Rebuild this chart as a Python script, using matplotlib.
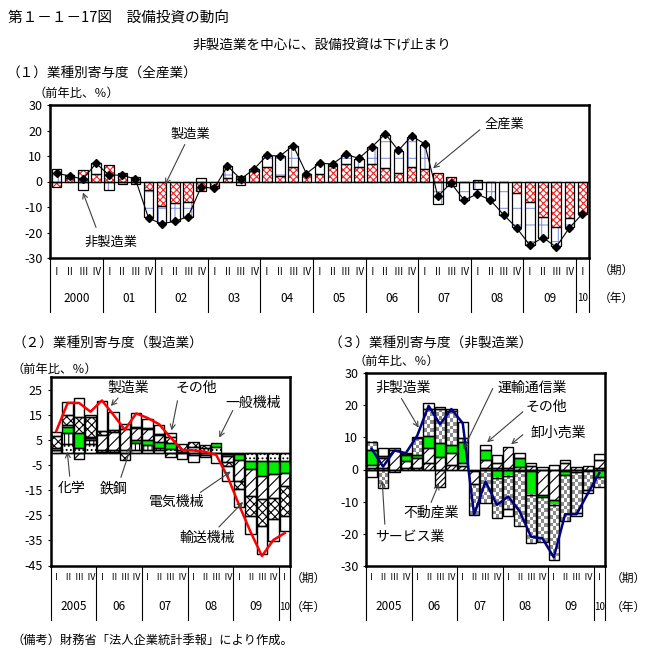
import numpy as np
import matplotlib
matplotlib.use('Agg')
import matplotlib.pyplot as plt
from matplotlib.colors import ListedColormap
from matplotlib.patches import FancyArrowPatch

plt.rcParams['font.family'] = ['Noto Sans CJK JP', 'DejaVu Sans']
plt.rcParams['axes.unicode_minus'] = False
plt.rcParams['hatch.linewidth'] = 0.8

W, H = 659, 657

# ---- data -------------------------------------------------------------
romans = ['Ⅰ', 'Ⅱ', 'Ⅲ', 'Ⅳ']

# (1) 全産業 2000Q1-2010Q1
years1 = ['2000', '01', '02', '03', '04', '05', '06', '07', '08', '09', '10']
mfg1 = [-2.0, 1.2, 4.4, 3.1, 6.5, 3.3, -1.0, -3.4, -9.7, -8.6, -8.2, -3.6, -1.7, 1.5, 2.0, 4.3,
        5.8, 2.2, 5.6, 2.8, 2.8, 6.2, 6.7, 5.8, 6.7, 5.2, 3.2, 5.7, 4.8, 3.5, 1.8, -0.3,
        0.5, -0.3, -0.3, -4.7, -8.2, -14.0, -17.7, -14.3, -12.3]
nonmfg1 = [5.0, 1.3, -3.4, 4.0, -3.4, -0.8, 1.8, -10.6, -6.6, -6.8, -5.6, 1.5, -1.0, 4.6, -1.5, 0.6,
           4.2, 7.8, 8.3, 0.3, 4.1, 0.7, 3.6, 3.1, 6.9, 13.2, 8.7, 11.8, 9.7, -8.8, -1.9, -6.9,
           -3.0, -6.9, -12.7, -13.2, -16.6, -8.0, -7.4, -3.6, -0.3]
total1 = [3.2, 2.2, 0.9, 7.1, 2.5, 2.5, 0.9, -14.4, -16.6, -15.6, -13.8, -2.1, -2.7, 6.1, 0.9, 4.8,
          10.2, 10.0, 14.1, 3.1, 7.1, 6.9, 10.6, 9.1, 13.6, 18.7, 12.2, 17.8, 14.8, -5.8, -0.6, -7.3,
          -4.9, -7.3, -13.0, -18.2, -25.0, -22.0, -25.7, -18.2, -12.7]

# (2) 製造業 2005Q1-2010Q1
years2 = ['2005', '06', '07', '08', '09', '10']
chem = [1.0, 3.5, 2.0, 3.5, 0.5, 0.5, 1.0, 1.3, 1.3, 1.0, 1.5, 0.5, 2.5, 2.0, 2.3, -0.5,
        -0.5, -3.3, -3.3, -3.3, -3.3]
steel = [0.3, 4.5, 0.0, 1.5, 0.5, 0.5, 0.0, 2.7, 1.7, 1.0, 0.0, 0.0, 0.0, 0.0, 0.0, 0.0,
         0.0, 0.0, 0.0, 0.0, 0.0]
genmach = [0.0, 2.5, 6.0, 1.0, 0.0, 0.0, 0.0, 1.3, 2.3, 2.5, 2.3, 0.0, 0.0, 0.0, 1.6, -0.7,
           -2.3, -3.3, -6.0, -5.3, -4.7]
elecmach = [0.5, 0.5, -2.5, 0.5, 6.0, 7.5, 8.7, 4.7, 4.4, 2.5, -1.7, 0.5, -1.0, -1.0, 0.0, -2.5,
            -8.3, -10.7, -9.3, -9.3, -5.3]
transmach = [5.0, 4.0, 6.5, 8.0, 1.6, 0.7, -2.8, 0.5, 0.3, 0.5, 2.7, 2.5, 2.0, 1.0, 0.0, -1.5,
             -3.5, -8.0, -10.7, -8.7, -12.0]
other2 = [1.7, 5.5, 7.5, 0.5, 12.0, 7.3, 2.0, 5.3, 3.6, 3.6, 1.3, -2.3, -2.7, -0.7, -4.1, -6.0,
          -7.2, -7.3, -11.3, -8.5, -6.0]
mfg2 = [8.7, 20.0, 20.0, 16.5, 21.0, 15.3, 9.3, 15.8, 14.0, 11.5, 6.2, 1.2, 1.0, 0.5, -0.8, -9.5,
        -20.8, -31.5, -41.2, -34.8, -32.0]

# (3) 非製造業 2005Q1-2010Q1
realestate = [0.5, 0.5, -0.8, 0.5, 0.5, 2.0, -5.3, 1.5, 1.0, -0.5, 0.5, 0.5, 0.4, -0.5, -0.5, 0.0,
              0.0, -0.5, -0.8, -0.6, 0.5]
wholesale = [1.0, 3.0, 6.0, 2.0, 3.0, 4.6, 3.8, 3.5, 1.0, -4.0, 2.5, 1.5, 6.5, 0.9, 1.0, -7.9,
             -9.4, 2.0, 0.9, 1.2, 2.5]
transcomm = [4.6, 0.7, 0.0, 2.0, 1.0, 3.7, 4.4, 2.6, 6.5, 0.0, 3.0, -2.5, -2.0, 2.6, -7.4, -0.7,
             -1.6, -1.3, 0.0, 0.0, -2.2]
services = [2.6, -5.8, 0.0, 0.3, 5.2, 8.5, 10.7, 10.6, 1.2, -9.6, -10.5, -12.5, -10.4, -17.2, -15.0, -13.8,
            -17.1, -14.3, -12.8, -5.7, -3.1]
other3 = [-2.2, 2.4, 0.7, 0.3, 0.5, 1.8, 0.5, 0.6, 5.0, 0.0, 1.7, 2.6, -2.2, 1.6, 1.0, 0.9,
          1.5, 1.0, -0.8, -1.0, 1.8]
nonmfg3 = [6.4, 0.9, 5.9, 5.1, 10.5, 19.8, 14.1, 18.8, 14.4, -14.1, -3.7, -11.0, -8.4, -13.0, -20.9, -21.4,
           -27.3, -13.9, -13.9, -7.4, -1.1]


# ---- helpers ----------------------------------------------------------
def fx(x):
    return x / W


def fy(y):
    return 1 - y / H


def add_ax(x0, y0, x1, y1):
    return fig.add_axes([fx(x0), fy(y1), (x1 - x0) / W, (y1 - y0) / H])


def checker(ax, x, bottom, height, width, cell_x, cell_y, dark):
    nx = max(1, int(round(width / cell_x)))
    ny = max(1, int(round(abs(height) / cell_y)))
    pat = np.add.outer(np.arange(ny), np.arange(nx)) % 2
    ax.imshow(pat, extent=(x - width / 2, x + width / 2, bottom, bottom + height),
              cmap=ListedColormap(['white', dark]), interpolation='nearest',
              aspect='auto', origin='lower', zorder=2)


def stacked(ax, series, styles, width, lw=0.9):
    n = len(series[0])
    x = np.arange(n)
    pos = np.zeros(n)
    neg = np.zeros(n)
    for vals, st in zip(series, styles):
        v = np.asarray(vals, float)
        bottom = np.where(v >= 0, pos, neg)
        m = v != 0
        if st.get('checker'):
            for xi, bi, vi in zip(x[m], bottom[m], v[m]):
                checker(ax, xi, bi, vi, width, st['cx'], st['cy'], st['checker'])
        else:
            ax.bar(x[m], v[m], width, bottom=bottom[m], color=st.get('face', 'white'),
                   edgecolor=st.get('hc', 'black'), hatch=st.get('hatch'), linewidth=0, zorder=2)
        ax.bar(x[m], v[m], width, bottom=bottom[m], fill=False, edgecolor='black',
               linewidth=lw, zorder=3)
        pos += np.where(v > 0, v, 0)
        neg += np.where(v < 0, v, 0)


def frame(ax, n, ylim, yticks):
    ax.set_xlim(-0.5, n - 0.5)
    ax.set_ylim(*ylim)
    ax.set_yticks(yticks)
    ax.set_yticklabels([str(t) for t in yticks])
    ax.set_xticks([])
    ax.tick_params(axis='y', direction='out', length=2.5, width=0.8, pad=3, labelsize=9)
    for s in ax.spines.values():
        s.set_linewidth(1.8)
    ax.axhline(0, color='black', lw=1.0, zorder=4)


def table(ax, n, years, box, y_rom, y_yr, y_bot, fs_rom, fs_yr):
    top, bot = box
    h = bot - top
    tr = ax.get_xaxis_transform()
    yr = (bot - y_rom) / h
    yy = (bot - y_yr) / h
    yb = (bot - y_bot) / h
    for i in range(n):
        ax.text(i, yr, romans[i % 4], transform=tr, ha='center', va='center',
                fontsize=fs_rom, clip_on=False)
    seps = list(range(0, n, 4)) + [n]
    for k in seps:
        ax.plot([k - 0.5, k - 0.5], [0, yb], transform=tr, color='black', lw=0.8, clip_on=False)
    for j, lab in enumerate(years):
        a = 4 * j
        b = min(4 * j + 4, n)
        ax.text((a + b - 1) / 2, yy, lab, transform=tr, ha='center', va='center',
                fontsize=fs_yr if b - a == 4 else fs_yr - 1.5, clip_on=False)


def label(x, y, s, fs=9.5, ha='center'):
    fig.text(fx(x), fy(y), s, ha=ha, va='center', fontsize=fs)


def arrow(x0, y0, x1, y1):
    fig.add_artist(FancyArrowPatch((fx(x0), fy(y0)), (fx(x1), fy(y1)), transform=fig.transFigure,
                                   arrowstyle='->,head_length=0.35,head_width=0.18',
                                   mutation_scale=10, lw=0.8, color='#404040', zorder=10))


fig = plt.figure(figsize=(W / 100, H / 100), dpi=100)

# ---- texts -------------------------------------------------------------
label(8, 18, '第１－１－17図　設備投資の動向', fs=10.5, ha='left')
label(322, 46, '非製造業を中心に、設備投資は下げ止まり', fs=9.8)
label(6, 73, '（１）業種別寄与度（全産業）', fs=9.8, ha='left')
label(34, 93, '（前年比、％）', fs=8.8, ha='left')
label(12, 343, '（２）業種別寄与度（製造業）', fs=9.8, ha='left')
label(12, 369, '（前年比、％）', fs=8.8, ha='left')
label(328, 343, '（３）業種別寄与度（非製造業）', fs=9.8, ha='left')
label(354, 361, '（前年比、％）', fs=8.8, ha='left')
label(12, 640, '（備考）財務省「法人企業統計季報」により作成。', fs=8.8, ha='left')

# ---- panel 1 -----------------------------------------------------------
ax1 = add_ax(50, 105, 589, 258)
n1 = len(total1)
stacked(ax1, [mfg1, nonmfg1],
        [dict(face='white', hc='#ff2020', hatch='xxxxx'),
         dict(face='white', hc='#8a96e0', hatch='+')], width=0.72, lw=0.9)
ax1.plot(np.arange(n1), total1, color='black', lw=0.8, marker='D', ms=4.5, zorder=5)
frame(ax1, n1, (-30, 30), list(range(-30, 31, 10)))
table(ax1, n1, years1, (105, 258), 272, 298, 312, 7, 8.5)
label(616, 270, '（期）', fs=8.5)
label(616, 298, '（年）', fs=8.5)
label(190, 134, '製造業')
arrow(186, 142, 164, 187)
label(111, 242, '非製造業')
arrow(97, 230, 82, 190)
label(504, 124, '全産業')
arrow(482, 128, 431, 170)

# ---- panel 2 -----------------------------------------------------------
ax2 = add_ax(50.5, 376.7, 290.5, 565.5)
n2 = len(mfg2)
stacked(ax2, [chem, steel, genmach, elecmach, transmach, other2],
        [dict(hatch='....'), dict(hatch='||||'), dict(face='#00ee00', hc='black'),
         dict(hatch='///'), dict(hatch='xxxx'), dict()], width=0.92, lw=1.0)
ax2.plot(np.arange(n2), mfg2, color='#ff0000', lw=1.8, zorder=5)
frame(ax2, n2, (-45, 30.5), [25, 15, 5, -5, -15, -25, -35, -45])
table(ax2, n2, years2, (376.7, 565.5), 578, 607, 620, 6.5, 8.5)
label(308, 578, '（期）', fs=8.5)
label(308, 607, '（年）', fs=8.5)
label(128, 388, '製造業', fs=10)
arrow(120, 396, 109, 408)
label(196, 388, 'その他', fs=10)
arrow(178, 398, 171, 433)
label(253, 403, '一般機械', fs=10)
arrow(234, 408, 218, 440)
label(72, 488, '化学', fs=10)
arrow(70, 479, 67, 449)
label(114, 488, '鉄鋼', fs=10)
arrow(120, 480, 132, 444)
label(177, 502, '電気機械', fs=10)
arrow(198, 494, 233, 470)
label(207, 538, '輸送機械', fs=10)
arrow(217, 529, 245, 500)

# ---- panel 3 -----------------------------------------------------------
ax3 = add_ax(366, 373, 605, 566)
n3 = len(nonmfg3)
stacked(ax3, [realestate, wholesale, transcomm, services, other3],
        [dict(hatch='//////'), dict(hatch='///'), dict(face='#00ee00', hc='black'),
         dict(checker='#8c8c8c', cx=0.3, cy=1.15), dict()], width=0.92, lw=1.0)
ax3.plot(np.arange(n3), nonmfg3, color='#000080', lw=1.8, zorder=5)
frame(ax3, n3, (-30, 30), list(range(-30, 31, 10)))
table(ax3, n3, years2, (373, 566), 578, 607, 620, 6.5, 8.5)
label(628, 578, '（期）', fs=8.5)
label(628, 607, '（年）', fs=8.5)
label(403, 388, '非製造業', fs=10)
arrow(400, 396, 420, 430)
label(532, 388, '運輸通信業', fs=10)
arrow(494, 386, 462, 452)
label(546, 407, 'その他', fs=10)
arrow(525, 410, 485, 444)
label(558, 433, '卸小売業', fs=10)
arrow(525, 433, 509, 446)
label(431, 513, '不動産業', fs=10)
arrow(430, 505, 440, 481)
label(410, 537, 'サービス業', fs=10)
arrow(385, 527, 382, 478)

fig.savefig('out.png', dpi=100)
